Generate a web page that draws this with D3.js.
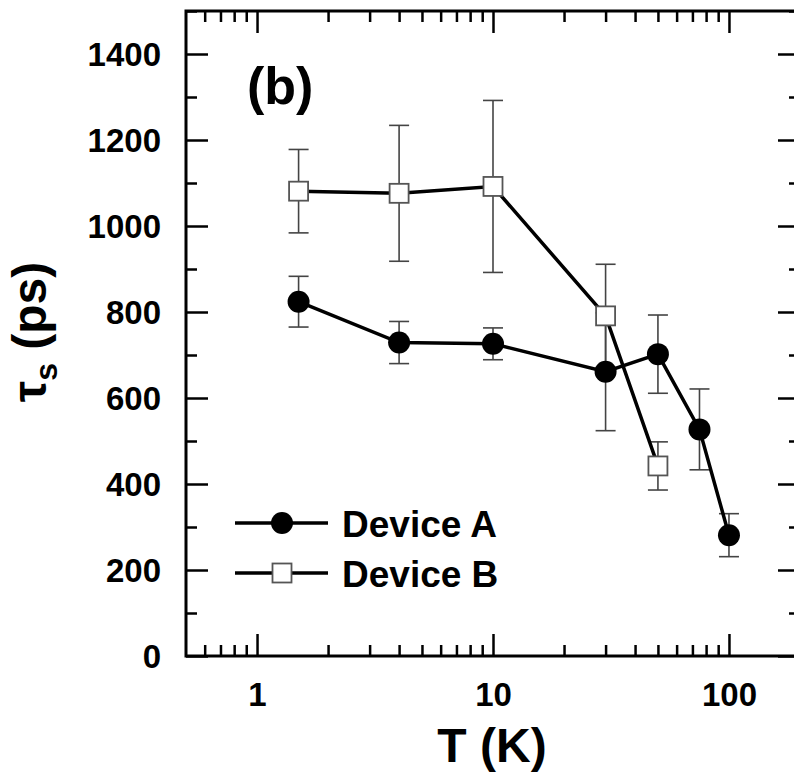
<!DOCTYPE html>
<html>
<head>
<meta charset="utf-8">
<script src="https://cdn.jsdelivr.net/npm/d3@7"></script>
<style>
html,body{margin:0;padding:0;background:#fff;}
svg{display:block;}
text{font-family:"Liberation Sans",Arial,sans-serif;font-weight:bold;fill:#000;}
</style>
</head>
<body>
<svg id="chart" width="794" height="776"></svg>
<script>
// Data
const tempsA = [1.5, 4, 10, 30, 50, 75, 100];
const tauA   = [824, 729, 726, 661, 702, 527, 281];
const errA   = [59, 49, 37, 137, 91, 94, 50];
const tempsB = [1.5, 4, 10, 30, 50];
const tauB   = [1081, 1076, 1092, 791, 442];
const errB   = [97, 158, 200, 120, 56];
const xMajorTicks = [1, 10, 100];
const xMinorTicks = [0.6, 0.7, 0.8, 0.9, 2, 3, 4, 5, 6, 7, 8, 9, 20, 30, 40, 50, 60, 70, 80, 90];
const yMajorTicks = [0, 200, 400, 600, 800, 1000, 1200, 1400];
const yMinorTicks = [100, 300, 500, 700, 900, 1100, 1300, 1500];
const seriesNames = ["Device A", "Device B"];

const svg = d3.select("#chart");
const L = 186, R = 800, T = 11, B = 656;
const x = d3.scaleLog().domain([0.5, 200]).range([L, R]);
const y = d3.scaleLinear().domain([0, 1500]).range([B, T]);

const majLen = 22, minLen = 11;
const FONT = '"Liberation Sans", Arial, sans-serif';

const gB = svg.append("g").attr("transform", `translate(0,${B})`)
  .call(d3.axisBottom(x).tickValues(xMajorTicks).tickSize(-majLen).tickFormat(d3.format("d")).tickPadding(27));
const gBm = svg.append("g").attr("transform", `translate(0,${B})`)
  .call(d3.axisBottom(x).tickValues(xMinorTicks).tickSize(-minLen).tickFormat(""));
const gT = svg.append("g").attr("transform", `translate(0,${T})`)
  .call(d3.axisTop(x).tickValues(xMajorTicks).tickSize(-majLen).tickFormat(""));
const gTm = svg.append("g").attr("transform", `translate(0,${T})`)
  .call(d3.axisTop(x).tickValues(xMinorTicks).tickSize(-minLen).tickFormat(""));
const gL = svg.append("g").attr("transform", `translate(${L},0)`)
  .call(d3.axisLeft(y).tickValues(yMajorTicks).tickSize(-majLen).tickFormat(d3.format("d")).tickPadding(25));
const gLm = svg.append("g").attr("transform", `translate(${L},0)`)
  .call(d3.axisLeft(y).tickValues(yMinorTicks).tickSize(-minLen).tickFormat(""));
const gR = svg.append("g").attr("transform", `translate(${R},0)`)
  .call(d3.axisRight(y).tickValues(yMajorTicks).tickSize(-majLen).tickFormat(""));
const gRm = svg.append("g").attr("transform", `translate(${R},0)`)
  .call(d3.axisRight(y).tickValues(yMinorTicks).tickSize(-minLen).tickFormat(""));

[gB, gBm, gT, gTm, gL, gLm, gR, gRm].forEach(g => {
  g.attr("font-family", null).attr("font-size", null);
  g.select(".domain").remove();
  g.selectAll(".tick line").attr("stroke", "#000").attr("stroke-width", 2.5);
  g.selectAll(".tick text").style("font-size", "33px").style("font-weight", "bold")
    .style("font-family", FONT).attr("fill", "#000");
});
gL.selectAll(".tick text").attr("dy", "0.36em");
gB.selectAll(".tick text").attr("dy", "0.71em");

svg.append("rect").attr("x", L).attr("y", T).attr("width", R - L).attr("height", B - T)
  .attr("fill", "none").attr("stroke", "#000").attr("stroke-width", 3);

const dataA = tempsA.map((t, i) => ({t, v: tauA[i], e: errA[i]}));
const dataB = tempsB.map((t, i) => ({t, v: tauB[i], e: errB[i]}));
const line = d3.line().x(d => x(d.t)).y(d => y(d.v));

function errorBars(data) {
  const g = svg.append("g").attr("stroke", "#444").attr("stroke-width", 1.6).attr("fill", "none");
  data.forEach(d => {
    const cx = x(d.t);
    g.append("line").attr("x1", cx).attr("x2", cx).attr("y1", y(d.v - d.e)).attr("y2", y(d.v + d.e));
    g.append("line").attr("x1", cx - 10).attr("x2", cx + 10).attr("y1", y(d.v - d.e)).attr("y2", y(d.v - d.e));
    g.append("line").attr("x1", cx - 10).attr("x2", cx + 10).attr("y1", y(d.v + d.e)).attr("y2", y(d.v + d.e));
  });
}
errorBars(dataA);
errorBars(dataB);

svg.append("path").datum(dataA).attr("d", line).attr("fill", "none").attr("stroke", "#000").attr("stroke-width", 3.5);
svg.append("path").datum(dataB).attr("d", line).attr("fill", "none").attr("stroke", "#000").attr("stroke-width", 3.5);

svg.append("g").selectAll("circle").data(dataA).join("circle")
  .attr("cx", d => x(d.t)).attr("cy", d => y(d.v)).attr("r", 11).attr("fill", "#000");
svg.append("g").selectAll("rect").data(dataB).join("rect")
  .attr("x", d => x(d.t) - 9.5).attr("y", d => y(d.v) - 9.5).attr("width", 19).attr("height", 19)
  .attr("fill", "#fff").attr("stroke", "#555").attr("stroke-width", 1.8);

// legend
const lg = svg.append("g");
const rows = [{name: seriesNames[0], y: 523, type: "circle"}, {name: seriesNames[1], y: 573, type: "square"}];
rows.forEach(r => {
  lg.append("line").attr("x1", 235).attr("x2", 328).attr("y1", r.y).attr("y2", r.y)
    .attr("stroke", "#000").attr("stroke-width", 3.5);
  if (r.type === "circle") {
    lg.append("circle").attr("cx", 282).attr("cy", r.y).attr("r", 11).attr("fill", "#000");
  } else {
    lg.append("rect").attr("x", 272.5).attr("y", r.y - 9.5).attr("width", 19).attr("height", 19)
      .attr("fill", "#fff").attr("stroke", "#555").attr("stroke-width", 1.8);
  }
  lg.append("text").attr("x", 342).attr("y", r.y + 14).style("font-size", "37px").text(r.name);
});

svg.append("text").attr("x", 247).attr("y", 104).style("font-size", "52px").text("(b)");

svg.append("text").attr("x", 492).attr("y", 762).attr("text-anchor", "middle").style("font-size", "48px").text("T (K)");
const yt = svg.append("text").attr("transform", `translate(46,332) rotate(-90)`)
  .attr("text-anchor", "middle").style("font-size", "48px");
yt.append("tspan").text("τ");
yt.append("tspan").attr("dy", 11).style("font-size", "32px").text("s");
yt.append("tspan").attr("dy", -11).text(" (ps)");
</script>
</body>
</html>
